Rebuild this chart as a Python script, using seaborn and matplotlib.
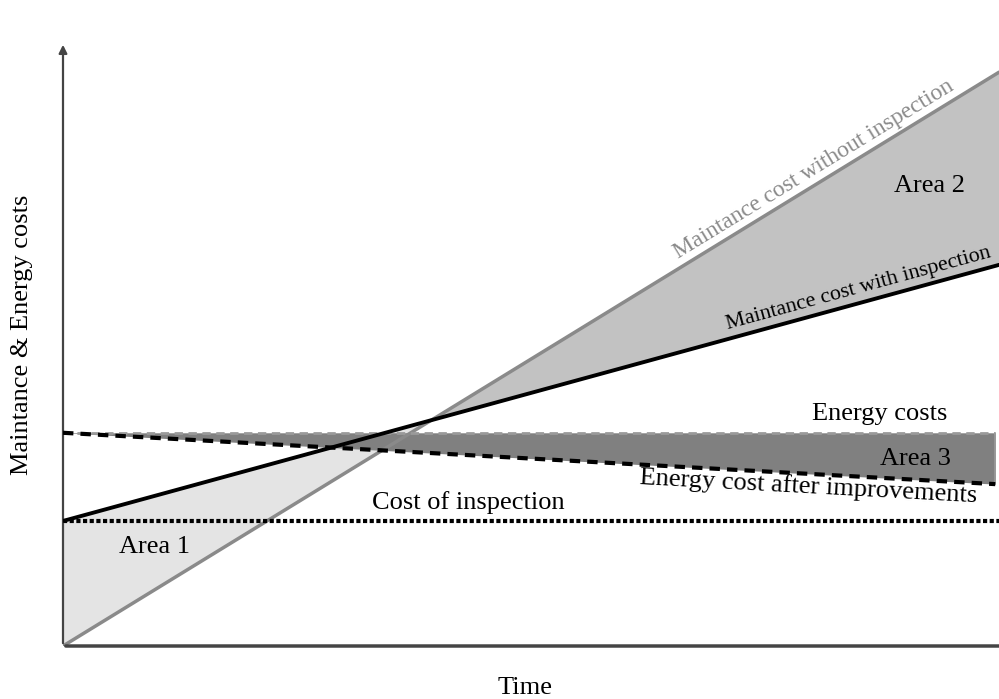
import numpy as np
import matplotlib
matplotlib.use('Agg')
import matplotlib.pyplot as plt
import seaborn as sns

# line end points (time 0..100, cost 0..100)
time = [0, 100]
cost_without = [0, 95.0]
cost_with = [20.7, 63.1]
inspection = [20.7, 20.7]
energy_time = [0, 99.6]
energy = [35.3, 35.3]
energy_improved = [35.3, 26.8]

sns.set_style('white')
plt.rcParams['font.family'] = ['Liberation Serif', 'DejaVu Serif']
plt.rcParams['text.color'] = 'black'

fig = plt.figure(figsize=(9.99, 6.99), dpi=100)
ax = fig.add_axes([63 / 999, 53 / 699, 936 / 999, 604 / 699])
ax.set_xlim(0, 100)
ax.set_ylim(0, 100)

# crossing of the two maintenance lines
m1 = (cost_without[1] - cost_without[0]) / (time[1] - time[0])
m2 = (cost_with[1] - cost_with[0]) / (time[1] - time[0])
xc = (cost_with[0] - cost_without[0]) / (m1 - m2)
yc = cost_without[0] + m1 * xc

# Area 1 and Area 2
ax.fill([time[0], xc, time[0]], [cost_with[0], yc, cost_without[0]], color='#e4e4e4', lw=0, zorder=1)
ax.fill([xc, time[1], time[1]], [yc, cost_without[1], cost_with[1]], color='#c2c2c2', lw=0, zorder=1)
# Area 3
ax.fill_between(energy_time, energy, energy_improved, color='#808080', lw=0, zorder=2)
ax.plot([energy_time[1]] * 2, [energy_improved[1], energy[1]], color='#9a9a9a', lw=1.2, zorder=2)

sns.lineplot(x=time, y=cost_without, ax=ax, color='#8a8a8a', lw=2.5, zorder=3)
sns.lineplot(x=time, y=inspection, ax=ax, color='black', lw=3, ls=(0, (1, 0.6)), zorder=3)
sns.lineplot(x=energy_time, y=energy, ax=ax, color='#9a9a9a', lw=2, ls=(0, (3, 2)), zorder=3)
sns.lineplot(x=energy_time, y=energy_improved, ax=ax, color='black', lw=3, ls=(0, (2.5, 1.7)), zorder=4)
sns.lineplot(x=time, y=cost_with, ax=ax, color='black', lw=2.8, zorder=5)

# axes as arrows
for s in ax.spines.values():
    s.set_visible(False)
ax.set_xticks([])
ax.set_yticks([])
ax.annotate('', xy=(0, 1), xytext=(0, 0), xycoords='axes fraction',
            arrowprops=dict(arrowstyle='-|>', color='#444444', lw=1.6, mutation_scale=12), annotation_clip=False)
ax.annotate('', xy=(1.01, 0), xytext=(0, 0), xycoords='axes fraction',
            arrowprops=dict(arrowstyle='-', color='#444444', lw=2.5), annotation_clip=False)

fs = 19
ax.text(80.2, 79.0, 'Maintance cost without inspection', color='#8a8a8a', fontsize=17,
        rotation=31.5, ha='center', va='center', rotation_mode='anchor')
ax.text(92.6, 76.2, 'Area 2', fontsize=fs, ha='center', va='center')
ax.text(85.0, 59.2, 'Maintance cost with inspection', fontsize=15.8,
        rotation=15.3, ha='center', va='center', rotation_mode='anchor')
ax.text(87.3, 38.4, 'Energy costs', fontsize=fs, ha='center', va='center')
ax.text(91.1, 30.9, 'Area 3', fontsize=fs, ha='center', va='center')
ax.text(79.6, 26.3, 'Energy cost after improvements', fontsize=fs, rotation=-3.1,
        ha='center', va='center', rotation_mode='anchor')
ax.text(43.3, 23.7, 'Cost of inspection', fontsize=fs, ha='center', va='center')
ax.text(9.8, 16.4, 'Area 1', fontsize=fs, ha='center', va='center')

fig.text(525 / 999, 1 - 688 / 699, 'Time', fontsize=fs, ha='center', va='center')
fig.text(22 / 999, 1 - 335 / 699, 'Maintance & Energy costs', fontsize=fs, rotation=90,
         ha='center', va='center')

fig.savefig('out.png', dpi=100)
